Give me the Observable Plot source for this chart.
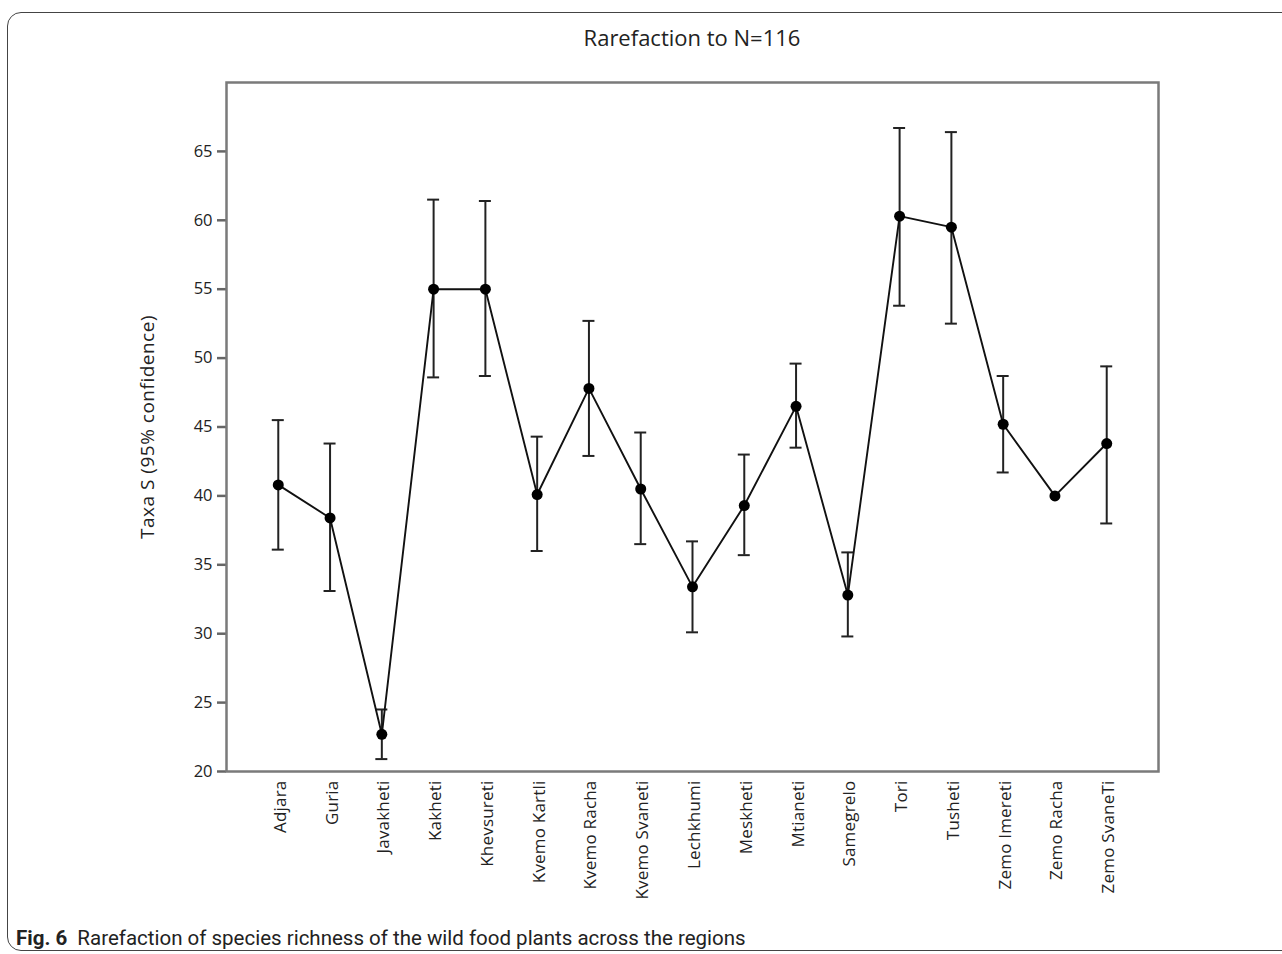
<!DOCTYPE html>
<html><head><meta charset="utf-8">
<script src="https://cdn.jsdelivr.net/npm/d3@7"></script>
<script src="https://cdn.jsdelivr.net/npm/@observablehq/plot@0.6"></script>
<style>
body{margin:0;background:#fff;font-family:"Open Sans",sans-serif;}
#wrap{position:relative;width:1282px;height:954px;overflow:hidden;}
#border{position:absolute;left:7px;top:12px;width:1320px;height:937px;border:1.3px solid #444;border-radius:14px;}
#title{position:absolute;left:392px;width:600px;top:22px;text-align:center;font-size:22px;color:#222;}
#chart{position:absolute;left:0;top:0;}
#caption{position:absolute;left:16px;top:926px;font-size:20.5px;color:#222;font-family:Roboto,sans-serif;white-space:nowrap;}
#caption b{font-weight:bold;}
g[aria-label="y-axis label"] text{font-size:19px;letter-spacing:0.5px;}
g[aria-label="x-axis tick label"] text{letter-spacing:0.2px;}
</style></head>
<body>
<div id="wrap">
<div id="border"></div>
<div id="chart"></div>
<div id="title">Rarefaction to N=116</div>
<div id="caption"><b>Fig. 6</b>&nbsp; Rarefaction of species richness of the wild food plants across the regions</div>
</div>
<script>
const regions = ["Adjara","Guria","Javakheti","Kakheti","Khevsureti","Kvemo Kartli","Kvemo Racha","Kvemo Svaneti","Lechkhumi","Meskheti","Mtianeti","Samegrelo","Tori","Tusheti","Zemo Imereti","Zemo Racha","Zemo SvaneTi"];
const richness = [40.8, 38.4, 22.7, 55.0, 55.0, 40.1, 47.8, 40.5, 33.4, 39.3, 46.5, 32.8, 60.3, 59.5, 45.2, 40.0, 43.8];
const lower = [36.1, 33.1, 20.9, 48.6, 48.7, 36.0, 42.9, 36.5, 30.1, 35.7, 43.5, 29.8, 53.8, 52.5, 41.7, null, 38.0];
const upper = [45.5, 43.8, 24.5, 61.5, 61.4, 44.3, 52.7, 44.6, 36.7, 43.0, 49.6, 35.9, 66.7, 66.4, 48.7, null, 49.4];
const yTicks = [20, 25, 30, 35, 40, 45, 50, 55, 60, 65];

const data = regions.map((r, i) => ({region: r, s: richness[i], lo: lower[i], hi: upper[i]}));
const bars = data.filter(d => d.lo != null);

const chart = Plot.plot({
  width: 1282, height: 954,
  marginLeft: 226, marginRight: 124, marginTop: 82, marginBottom: 183,
  style: {fontFamily: '"Open Sans", sans-serif', fontSize: "16px", color: "#222", background: "transparent"},
  x: {type: "point", domain: regions, padding: 1, round: false},
  y: {domain: [20, 70]},
  marks: [
    Plot.axisY({ticks: yTicks, tickSize: 9, tickPadding: 5, stroke: "#666", strokeWidth: 2.5, fontSize: 16.5,
      label: "Taxa S (95% confidence)", labelAnchor: "center", labelArrow: "none", labelOffset: 86}),
    Plot.axisX({tickSize: 0, tickRotate: -90, tickPadding: 9, dx: 2, label: null, fontSize: 17}),
    Plot.frame({stroke: "#7a7a7a", strokeWidth: 2.5}),
    Plot.ruleX(bars, {x: "region", y1: "lo", y2: "hi", stroke: "#222", strokeWidth: 2}),
    Plot.ruleY(bars, {x1: "region", x2: "region", y: "lo", insetLeft: -6, insetRight: -6, stroke: "#222", strokeWidth: 2}),
    Plot.ruleY(bars, {x1: "region", x2: "region", y: "hi", insetLeft: -6, insetRight: -6, stroke: "#222", strokeWidth: 2}),
    Plot.line(data, {x: "region", y: "s", stroke: "#111", strokeWidth: 1.9}),
    Plot.dot(data, {x: "region", y: "s", r: 5.5, fill: "#000"})
  ]
});
document.getElementById("chart").append(chart);
</script>
</body></html>
